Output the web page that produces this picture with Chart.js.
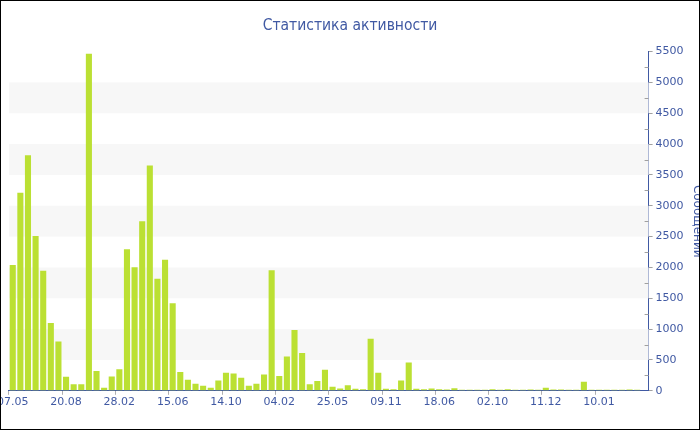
<!DOCTYPE html>
<html>
<head>
<meta charset="utf-8">
<script src="https://cdn.jsdelivr.net/npm/chart.js@4.4.1/dist/chart.umd.min.js"></script>
<style>
    html, body { margin: 0; padding: 0; background: #fff; }
    #wrap { position: relative; width: 700px; height: 430px; overflow: hidden; }
    #chart { position: absolute; left: -4px; top: 0; }
    #frame { position: absolute; left: 0; top: 0; width: 700px; height: 430px; box-sizing: border-box; border: 1px solid #000; pointer-events: none; }
</style>
</head>
<body>
<div id="wrap">
    <canvas id="chart" width="708" height="430"></canvas>
    <div id="frame"></div>
</div>
<script>
const tickLabels = ['07.05', '20.08', '28.02', '15.06', '14.10', '04.02', '25.05', '09.11', '18.06', '02.10', '11.12', '10.01']
const tickStep = 7
const messages = [
    2040, 3210, 3820, 2510, 1945, 1100, 800, 227, 108, 108,
    5465, 320, 49, 232, 351, 2296, 2005, 2750, 3653, 1815,
    2124, 1421, 303, 178, 113, 81, 49, 167, 292, 281,
    211, 81, 113, 264, 1956, 238, 556, 984, 611, 108,
    157, 340, 65, 37, 92, 32, 27, 843, 292, 32,
    27, 167, 459, 32, 27, 37, 27, 22, 43, 16,
    16, 16, 16, 27, 16, 27, 16, 16, 22, 16,
    49, 22, 22, 16, 16, 146, 16, 16, 16, 16,
    16, 22, 16, null
]
const categories = messages.map((v, i) => i % tickStep === 0 ? tickLabels[i / tickStep] : '')

const blue = '#4059a3'
const font = 'DejaVu Sans'

// alternating light bands between y ticks + minor ticks on the axis
const bands = {
    id: 'bands',
    beforeDatasetsDraw(chart) {
        const c = chart.ctx, y = chart.scales.y, a = chart.chartArea
        c.save()
        c.fillStyle = '#f7f7f7'
        for (let v = 500; v < 5500; v += 1000) {
            const top = y.getPixelForValue(v + 500), bot = y.getPixelForValue(v)
            c.fillRect(a.left, top, a.right - a.left, bot - top)
        }
        c.restore()
    },
    afterDraw(chart) {
        const c = chart.ctx, y = chart.scales.y, a = chart.chartArea
        c.save()
        c.strokeStyle = '#a0a0a0'
        c.lineWidth = 1
        for (let v = 250; v < 5500; v += 500) {
            const py = Math.round(y.getPixelForValue(v)) + 0.5
            c.beginPath()
            c.moveTo(a.right - 4, py)
            c.lineTo(a.right, py)
            c.stroke()
        }
        c.restore()
    }
}

new Chart(document.getElementById('chart'), {
    type: 'bar',
    data: {
        labels: categories,
        datasets: [{
            label: 'Сообщений',
            data: messages,
            backgroundColor: '#bbe033',
            barPercentage: 0.8,
            categoryPercentage: 1
        }]
    },
    options: {
        responsive: false,
        animation: false,
        layout: { padding: { left: 0, right: 0, top: 0, bottom: 20 } },
        plugins: {
            legend: { display: false },
            tooltip: { enabled: false },
            title: {
                display: true,
                text: 'Статистика активности',
                color: blue,
                font: { family: 'DejaVu Sans Condensed', size: 15.5, weight: 'normal' },
                padding: { top: 17, bottom: 16 }
            }
        },
        scales: {
            x: {
                grid: {
                    drawOnChartArea: false,
                    tickLength: 4,
                    color: (c) => c.index % tickStep === 0 ? '#b0b0b0' : 'transparent'
                },
                border: { color: blue, width: 1 },
                ticks: {
                    autoSkip: false,
                    maxRotation: 0,
                    color: blue,
                    padding: 1,
                    font: { family: font, size: 11 }
                }
            },
            y: {
                position: 'right',
                min: 0,
                max: 5500,
                grid: { drawOnChartArea: false, tickLength: 4, color: '#a0a0a0' },
                border: { color: blue, width: 1 },
                ticks: {
                    stepSize: 500,
                    color: blue,
                    padding: 3,
                    font: { family: font, size: 11 },
                    callback: (v) => String(v)
                },
                title: {
                    display: true,
                    text: 'Сообщений',
                    color: blue,
                    padding: { top: 0, bottom: 3 },
                    font: { family: font, size: 12 }
                }
            }
        }
    },
    plugins: [bands]
})
</script>
</body>
</html>
